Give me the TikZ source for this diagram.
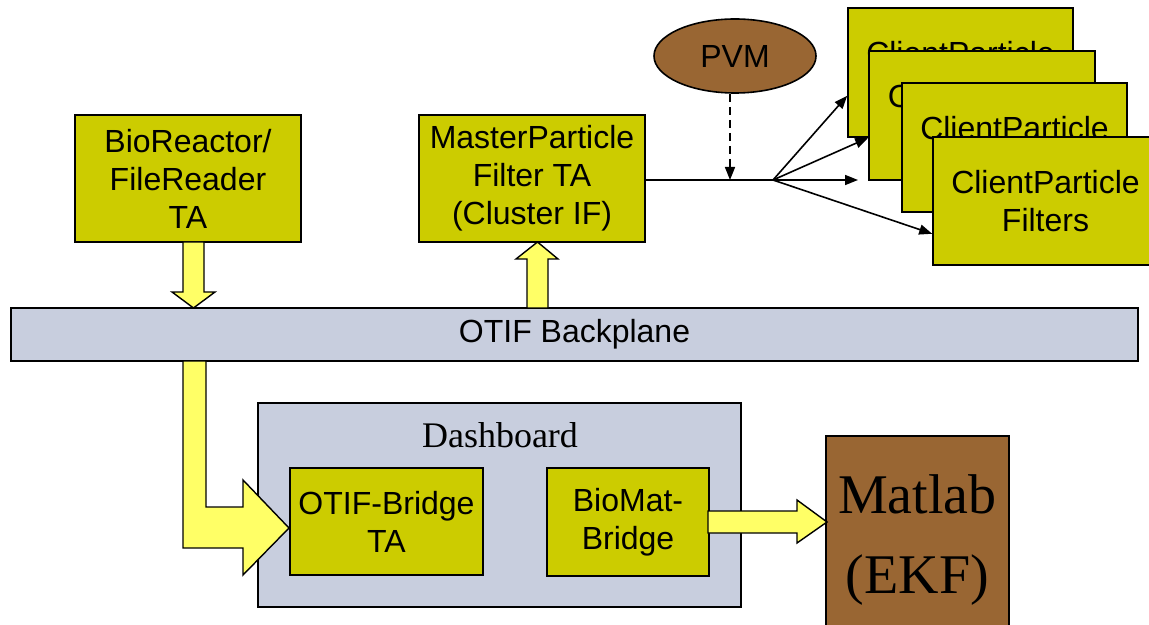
\documentclass[tikz,border=0pt]{standalone}
\usepackage{fontspec}
\setmainfont{Liberation Sans}
\newfontfamily\serifface{Liberation Serif}
\usetikzlibrary{arrows.meta,calc,shapes.geometric}

\definecolor{boxolive}{HTML}{CCCC00}
\definecolor{arrowyellow}{HTML}{FFFF66}
\definecolor{panelgray}{HTML}{C8CEDE}
\definecolor{brownfill}{HTML}{996633}

\tikzset{
  unitbox/.style={draw=black, line width=0.8pt, fill=boxolive, align=center,
    inner sep=0pt, font=\fontsize{16pt}{19pt}\selectfont},
  panel/.style={draw=black, line width=0.8pt, fill=panelgray, inner sep=0pt},
  blockarrow/.style={draw=black, line width=0.7pt, fill=arrowyellow, line join=miter},
  thinarrow/.style={line width=0.8pt, -{Triangle[length=6.5pt,width=5pt]}},
}

\begin{document}
\begin{tikzpicture}[x=0.5pt, y=-0.5pt]
\path[use as bounding box, clip] (0,0) rectangle (1149,625);
\fill[white] (0,0) rectangle (1149,625);

% top row of task agents
\node[unitbox, minimum width=113pt, minimum height=63.5pt] (bio) at (188,178.5)
  {BioReactor/\\FileReader\\TA};
\node[unitbox, minimum width=113pt, minimum height=63.5pt] (master) at (532,178.5)
  {MasterParticle\\Filter TA\\(Cluster IF)};

% stack of client filters
\node[unitbox, minimum width=112.5pt, minimum height=64.5pt] (c1) at (960.5,72.5)
  {ClientParticle\\Filters};
\node[unitbox, minimum width=113pt, minimum height=64.5pt] (c2) at (982,115.5)
  {ClientParticle\\Filters};
\node[unitbox, minimum width=112.5pt, minimum height=64.5pt] (c3) at (1014.5,147.5)
  {ClientParticle\\Filters};
\node[unitbox, minimum width=112.5pt, minimum height=64pt] (c4) at (1045.5,201)
  {ClientParticle\\Filters};

% PVM
\node[ellipse, draw=black, line width=0.8pt, fill=brownfill, inner sep=0pt,
  minimum width=81pt, minimum height=37pt, font=\fontsize{16pt}{19pt}\selectfont]
  (pvm) at (735,56) {PVM};

% backplane
\node[panel, minimum width=563.5pt, minimum height=26.5pt,
  font=\fontsize{16pt}{19pt}\selectfont] (otif) at (574.5,334.5) {OTIF Backplane};

% dashboard group
\node[panel, minimum width=241.5pt, minimum height=102pt] (dash) at (499.5,505) {};
\node[font=\serifface\fontsize{18pt}{21pt}\selectfont, inner sep=0pt]
  (dashlabel) at (500,435) {Dashboard};
\node[unitbox, minimum width=96.5pt, minimum height=53.5pt] (bridge) at (386.5,521.5)
  {OTIF-Bridge\\TA};
\node[unitbox, minimum width=81pt, minimum height=54pt] (biomat) at (628,522)
  {BioMat-\\Bridge};

% Matlab
\node[draw=black, line width=0.8pt, fill=brownfill, inner sep=0pt, align=center,
  minimum width=91.5pt, minimum height=104pt,
  font=\serifface\fontsize{28pt}{40pt}\selectfont] (matlab) at (917.5,540)
  {Matlab\\(EKF)};

% block arrows
\draw[blockarrow] (183,242) -- (204,242) -- (204,292) -- (215,292)
  -- (193.5,308) -- (172,292) -- (183,292) -- cycle;
\draw[blockarrow] (527,308) -- (548,308) -- (548,259) -- (558,259)
  -- (537.5,242) -- (516,259) -- (527,259) -- cycle;
\draw[blockarrow] (183,361) -- (206,361) -- (206,507) -- (243,507) -- (243,480)
  -- (289,528) -- (243,575) -- (243,548) -- (183,548) -- cycle;
\draw[blockarrow] (708,511) -- (797,511) -- (797,500) -- (827,522)
  -- (797,543) -- (797,533) -- (708,533) -- cycle;

% message distribution to the clients
\coordinate (fork) at (773,180);
\coordinate (tap) at (730,180);
\draw[line width=0.8pt] (master.east |- fork) -- (fork);
\draw[thinarrow, dash pattern=on 4pt off 2.5pt] ($(pvm.south)+(-5,0)$) -- (tap);
\draw[thinarrow] (fork) -- ($(c1.south west)+(0,-42)$);
\draw[thinarrow] (fork) -- (c2.west |- c1.south);
\draw[thinarrow] (fork) -- (858,180);
\draw[thinarrow] (fork) -- ($(c4.south west)+(0,-32)$);
\end{tikzpicture}
\end{document}
